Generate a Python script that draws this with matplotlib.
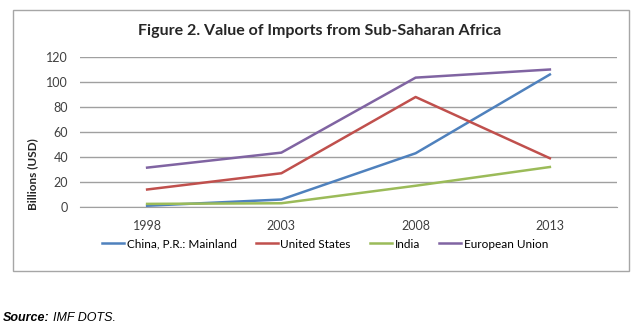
import matplotlib
matplotlib.use("Agg")
import matplotlib.pyplot as plt
from matplotlib.patches import Rectangle

# data
years = ["1998", "2003", "2008", "2013"]
china = [1, 6, 43, 106]
united_states = [14, 27, 88, 39]
india = [2.5, 3, 17, 32]
eu = [31.5, 43.5, 103.5, 110]

series = [
	("China, P.R.: Mainland", china, "#4F81BD"),
	("United States", united_states, "#C0504D"),
	("India", india, "#9BBB59"),
	("European Union", eu, "#8064A2"),
]
y_ticks = [0, 20, 40, 60, 80, 100, 120]

plt.rcParams['font.family'] = ['Lato', 'DejaVu Sans']

fig = plt.figure(figsize=(6.4, 3.29), dpi=100)
fig.patch.set_facecolor("white")

# outer chart box
fig.patches.append(Rectangle((13/640, 58/329), 616/640, 261/329, transform=fig.transFigure,
	fill=False, edgecolor="#a6a6a6", linewidth=1.0))

ax = fig.add_axes([80/640, 122/329, 537/640, 150/329])
x = list(range(len(years)))
for name, vals, col in series:
	ax.plot(x, vals, color=col, linewidth=1.8, label=name)

ax.set_xlim(-0.5, len(years) - 0.5)
ax.set_ylim(0, 120)
ax.set_xticks(x)
ax.set_xticklabels(years)
ax.set_yticks(y_ticks)
ax.tick_params(axis="both", length=0, labelsize=9, colors="#404040")
ax.tick_params(axis="x", pad=9)
ax.tick_params(axis="y", pad=8.5)
ax.grid(axis="y", color="#a0a0a0", linewidth=1.0)
ax.set_axisbelow(True)
for s in ["top", "right", "left"]:
	ax.spines[s].set_visible(False)
ax.spines["bottom"].set_color("#a0a0a0")

# y label sits low, next to the lower ticks, as in the source chart
fig.text(33/640, (329-174)/329, "Billions (USD)", rotation=90, ha="center", va="center",
	fontsize=8.5, fontweight="bold", color="#262626")

fig.text(0.5, (329-31)/329, "Figure 2. Value of Imports from Sub-Saharan Africa",
	ha="center", va="center", fontsize=11.5, fontweight="bold", color="#262626")

fig.legend(loc="center", bbox_to_anchor=(325/640, (329-244)/329), ncol=4, frameon=False,
	fontsize=8.5, handlelength=1.9, handletextpad=0.2, columnspacing=1.6)

fig.text(3/640, 11/329, "Source:", fontsize=9, fontweight="bold", style="italic",
	family="Liberation Sans", va="center")
fig.text(53/640, 11/329, "IMF DOTS.", fontsize=9, style="italic",
	family="Liberation Sans", va="center")

fig.savefig("out.png", dpi=100)
